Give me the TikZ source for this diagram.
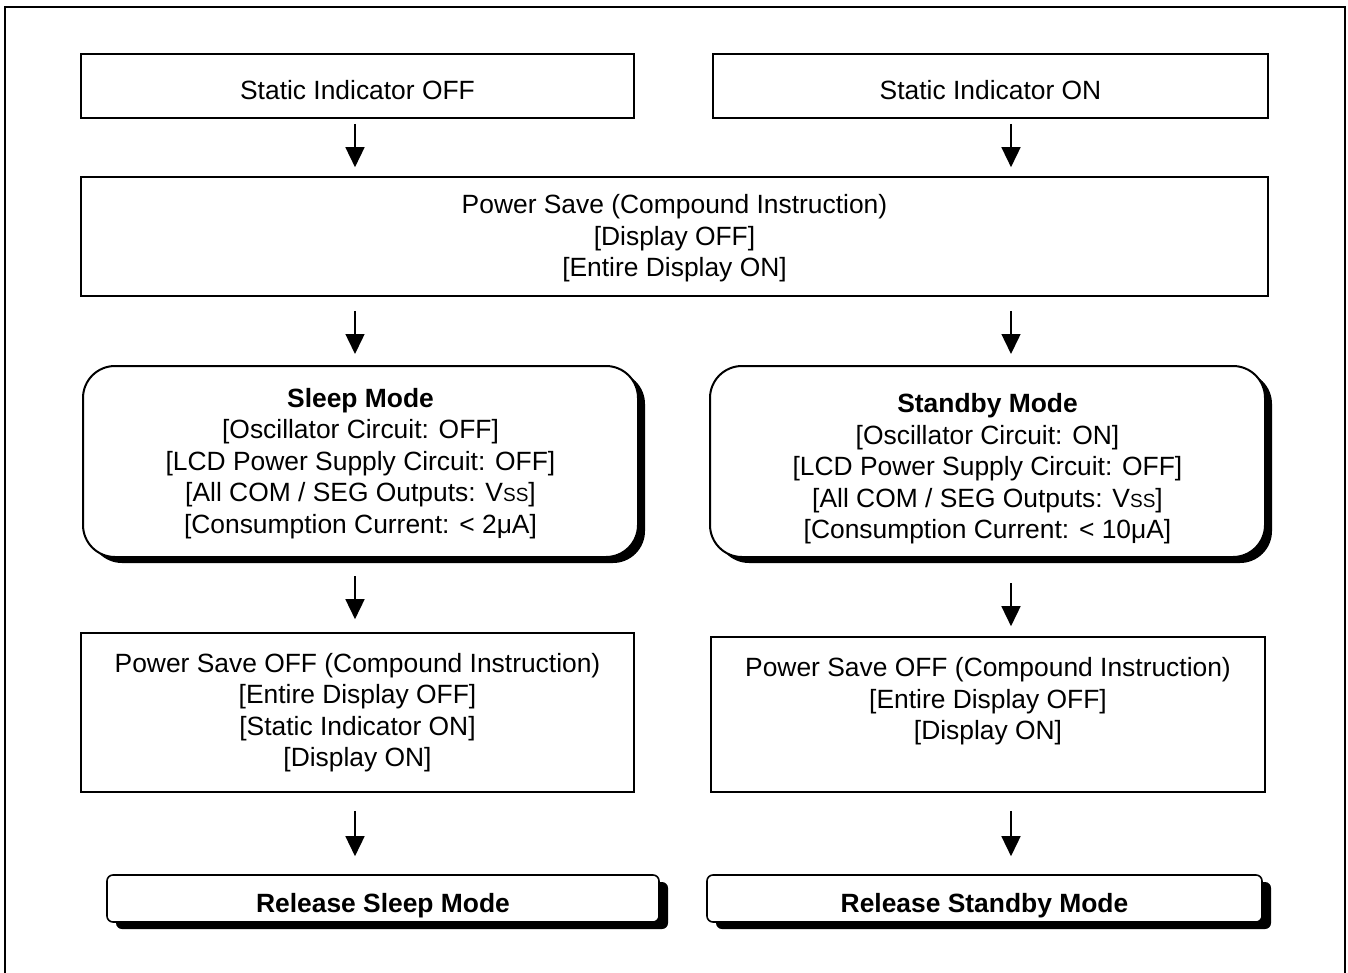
\documentclass[tikz,border=0pt]{standalone}
\usepackage{fontspec}
\setmainfont{Liberation Sans}
\usetikzlibrary{shadows,arrows.meta}
\newcommand{\vssx}{V{\fontsize{19}{19}\selectfont SS}}
\newcommand{\lowr}[2]{\raisebox{-#1}[\height][\depth]{#2}}
\begin{document}
\begin{tikzpicture}[x=1pt,y=-1pt,
  every node/.style={font=\fontsize{26.4}{31.5}\selectfont, inner sep=0pt, align=center},
  sqbox/.style={draw, line width=1.6pt, fill=white},
  modebox/.style={draw, line width=2pt, fill=white, rounded corners=32pt,
    general shadow={shadow xshift=7pt, shadow yshift=-6pt, fill=black, opacity=1}},
  relbox/.style={draw, line width=1.6pt, fill=white, rounded corners=6pt,
    general shadow={shadow xshift=9pt, shadow yshift=-7pt, fill=black, opacity=1}},
  arr/.style={-{Triangle[length=20pt,width=19pt]}, line width=1.5pt}
]
\useasboundingbox (0,0) rectangle (1348,973);
\draw[line width=2.5pt] (5,995) -- (5,7) -- (1345,7) -- (1345,995);

\node[sqbox, minimum width=553pt, minimum height=64pt] (sOff) at (357.5,86) {\lowr{4pt}{Static Indicator OFF}};
\node[sqbox, minimum width=555pt, minimum height=64pt] (sOn) at (990.5,86) {\lowr{4pt}{Static Indicator ON}};

\node[sqbox, minimum width=1187pt, minimum height=119pt] (ps) at (674.5,236.5)
  {\rule{0pt}{23pt}Power Save (Compound Instruction)\\{[}Display OFF]\\{[}Entire Display ON]};

\node[modebox, minimum width=555pt, minimum height=191pt] (sleep) at (360.5,461.5)
  {\rule{0pt}{23pt}\textbf{Sleep Mode}\\{[}Oscillator Circuit: OFF]\\{[}LCD Power Supply Circuit: OFF]\\{[}All COM / SEG Outputs: \vssx]\\{[}Consumption Current: < 2μA]};
\node[modebox, minimum width=555pt, minimum height=191pt] (standby) at (987.5,461.5)
  {\rule{0pt}{34pt}\textbf{Standby Mode}\\{[}Oscillator Circuit: ON]\\{[}LCD Power Supply Circuit: OFF]\\{[}All COM / SEG Outputs: \vssx]\\{[}Consumption Current: < 10μA]};

\node[sqbox, minimum width=553pt, minimum height=159pt] (psoL) at (357.5,712.5)
  {Power Save OFF (Compound Instruction)\\{[}Entire Display OFF]\\{[}Static Indicator ON]\\{[}Display ON]};
\node[sqbox, minimum width=554pt, minimum height=155pt] (psoR) at (988,714.5)
  {Power Save OFF (Compound Instruction)\\{[}Entire Display OFF]\\{[}Display ON]\\\rule{0pt}{4pt}};

\node[relbox, minimum width=552pt, minimum height=47pt] (relL) at (383,898.5)
  {\lowr{7pt}{\textbf{Release Sleep Mode}}};
\node[relbox, minimum width=555pt, minimum height=47pt] (relR) at (984.5,898.5)
  {\lowr{7pt}{\textbf{Release Standby Mode}}};

\coordinate (cl) at (355,0);
\coordinate (cr) at (1011,0);

\draw[arr, shorten <=5pt, shorten >=9pt] (sOff.south -| cl) -- (ps.north -| cl);
\draw[arr, shorten <=5pt, shorten >=9pt] (sOn.south -| cr) -- (ps.north -| cr);
\draw[arr, shorten <=14pt, shorten >=11pt] (ps.south -| cl) -- (sleep.north -| cl);
\draw[arr, shorten <=14pt, shorten >=11pt] (ps.south -| cr) -- (standby.north -| cr);
\draw[arr, shorten <=18pt, shorten >=13pt] (sleep.south -| cl) -- (psoL.north -| cl);
\draw[arr, shorten <=25pt, shorten >=10pt] (standby.south -| cr) -- (psoR.north -| cr);
\draw[arr, shorten <=18pt, shorten >=18pt] (psoL.south -| cl) -- (relL.north -| cl);
\draw[arr, shorten <=18pt, shorten >=18pt] (psoR.south -| cr) -- (relR.north -| cr);
\end{tikzpicture}
\end{document}
